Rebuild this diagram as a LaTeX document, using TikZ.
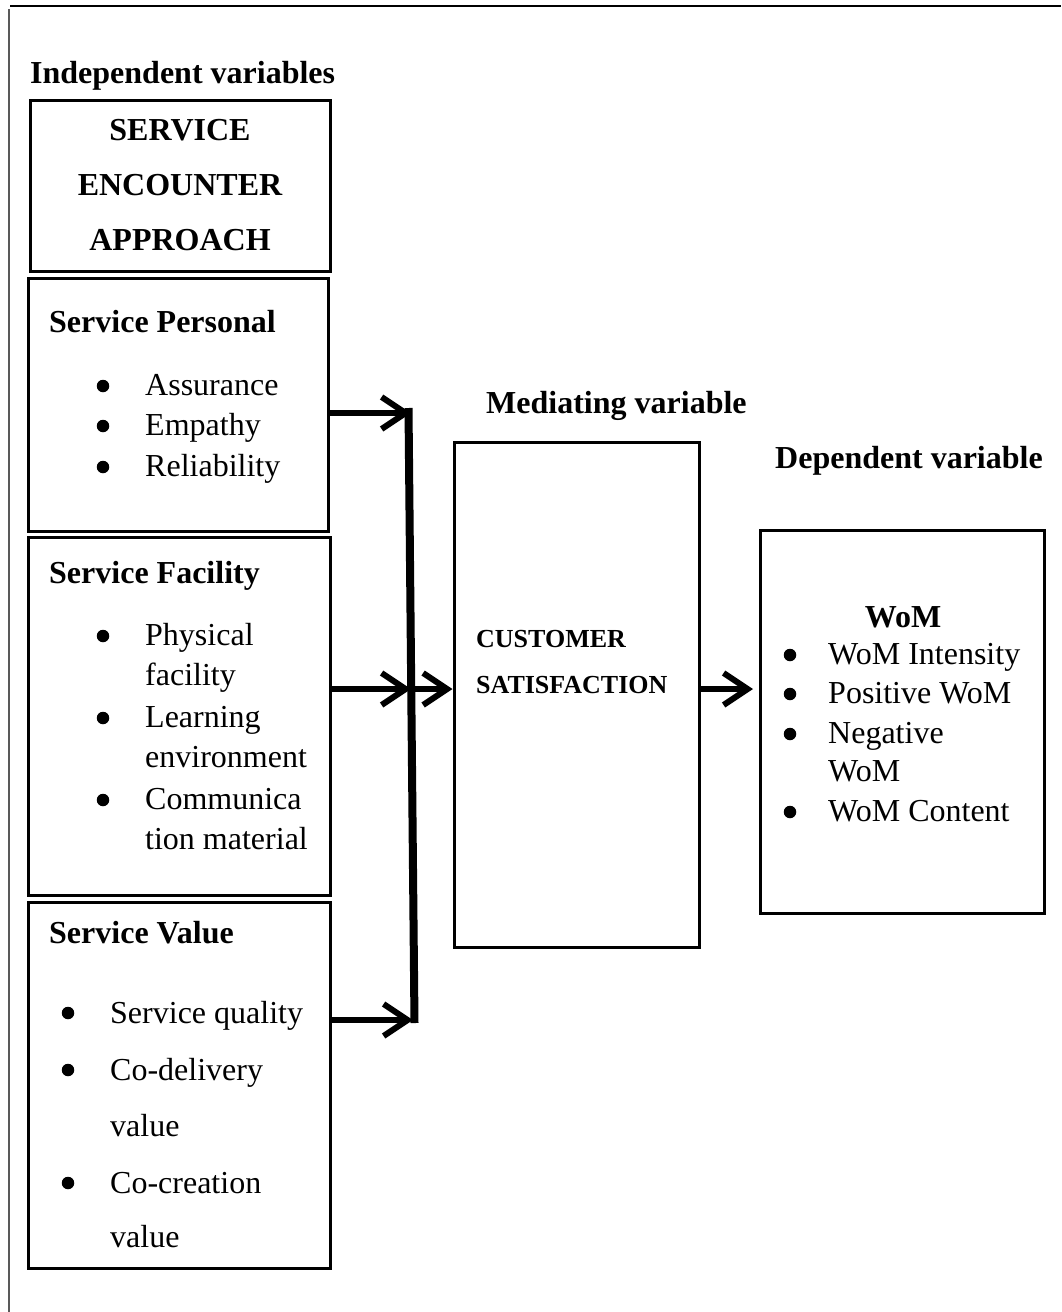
\documentclass[tikz,border=0pt]{standalone}
\usepackage{fontspec}
\setmainfont{Liberation Serif}
\usetikzlibrary{arrows.meta,calc}
\begin{document}
\begin{tikzpicture}[x=1pt,y=-1pt,
  box/.style={draw, line width=3pt, inner sep=0pt},
  txt/.style={anchor=base west, inner sep=0pt, font=\fontsize{32}{41}\selectfont},
  hd/.style={anchor=base west, inner sep=0pt, font=\fontsize{32}{41}\selectfont\bfseries},
  hdc/.style={anchor=base, inner sep=0pt, font=\fontsize{32}{41}\selectfont\bfseries},
  sm/.style={anchor=base west, inner sep=0pt, font=\fontsize{26}{34}\selectfont\bfseries},
  bul/.style={circle, fill=black, inner sep=0pt, minimum size=12.5pt},
  arr/.style={line width=6pt, -{Straight Barb[length=24pt,width=32pt]}}]
\useasboundingbox (0,0) rectangle (1061,1312);
% frame
\draw[line width=2pt] (10,6) -- (1061,6);
\draw[line width=2pt, black!65] (9,9) -- (9,1312);

% headings
\node[hd] (hind) at (30,83) {Independent variables};
\node[hd] (hmed) at (486,413) {Mediating variable};
\node[hd] (hdep) at (775,468) {Dependent variable};

% boxes
\node[box, minimum width=300pt, minimum height=171pt] (sea) at (180,185.5) {};
\node[box, minimum width=300pt, minimum height=253pt] (sp) at (178,404.5) {};
\node[box, minimum width=302pt, minimum height=358pt] (sf) at (179,716) {};
\node[box, minimum width=302pt, minimum height=366pt] (sv) at (179,1085) {};
\node[box, minimum width=245pt, minimum height=505pt] (cs) at (576.5,694.5) {};
\node[box, minimum width=284pt, minimum height=383pt] (wom) at (902,721.5) {};

% SEA text
\node[hdc] (sea1) at (180,140) {SERVICE};
\node[hdc] (sea2) at (180,195) {ENCOUNTER};
\node[hdc] (sea3) at (180,250) {APPROACH};

% Service Personal
\node[hd] (spt) at (49,332) {Service Personal};
\node[bul] (spb1) at (103,386) {};
\node[txt] (sp1) at (145,395) {Assurance};
\node[bul] (spb2) at (103,426) {};
\node[txt] (sp2) at (145,435) {Empathy};
\node[bul] (spb3) at (103,467) {};
\node[txt] (sp3) at (145,476) {Reliability};

% Service Facility
\node[hd] (sft) at (49,583) {Service Facility};
\node[bul] (sfb1) at (103,636) {};
\node[txt] (sf1) at (145,645) {Physical};
\node[txt] (sf2) at (145,685) {facility};
\node[bul] (sfb2) at (103,718) {};
\node[txt] (sf3) at (145,727) {Learning};
\node[txt] (sf4) at (145,767) {environment};
\node[bul] (sfb3) at (103,800) {};
\node[txt] (sf5) at (145,809) {Communica};
\node[txt] (sf6) at (145,849) {tion material};

% Service Value
\node[hd] (svt) at (49,943) {Service Value};
\node[bul] (svb1) at (68,1013) {};
\node[txt] (sv1) at (110,1023) {Service quality};
\node[bul] (svb2) at (68,1070) {};
\node[txt] (sv2) at (110,1080) {Co-delivery};
\node[txt] (sv3) at (110,1136) {value};
\node[bul] (svb3) at (68,1183) {};
\node[txt] (sv4) at (110,1193) {Co-creation};
\node[txt] (sv5) at (110,1247) {value};

% Customer satisfaction
\node[sm] (cs1) at (476,647) {CUSTOMER};
\node[sm] (cs2) at (476,693) {SATISFACTION};

% WoM
\node[hdc] (wt) at (903,627) {WoM};
\node[bul] (wb1) at (790,655) {};
\node[txt] (w1) at (828,664) {WoM Intensity};
\node[bul] (wb2) at (790,694) {};
\node[txt] (w2) at (828,703) {Positive WoM};
\node[bul] (wb3) at (790,734) {};
\node[txt] (w3) at (828,743) {Negative};
\node[txt] (w4) at (828,781) {WoM};
\node[bul] (wb4) at (790,812) {};
\node[txt] (w5) at (828,821) {WoM Content};

% bar and connectors
\coordinate (bt) at (408.5,408);
\coordinate (bb) at (414.5,1023);
\draw[line width=8pt] (bt) -- (bb);
\coordinate (j1) at (411,413);
\coordinate (j2) at (411,689);
\coordinate (j3) at (413,1020);
\coordinate (j4) at (753,689);
\draw[arr] (sp.east |- j1) -- (j1);
\draw[arr] (sf.east |- j2) -- (j2);
\draw[arr] (j2) -- (cs.west |- j2);
\draw[arr] (sv.east |- j3) -- (j3);
\draw[arr] (cs.east |- j2) -- (j4);
\end{tikzpicture}
\end{document}
